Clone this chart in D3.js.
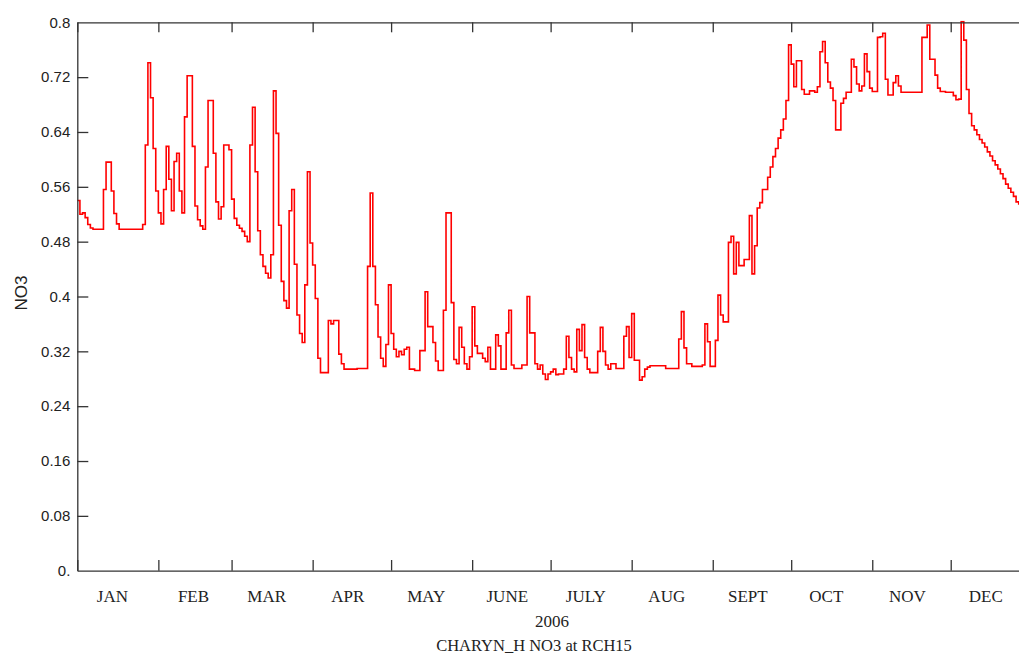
<!DOCTYPE html>
<html>
<head>
<meta charset="utf-8">
<script src="https://cdn.jsdelivr.net/npm/d3@7"></script>
<style>
  html, body { margin: 0; padding: 0; background: #fff; }
  svg { display: block; }
</style>
</head>
<body>
<svg id="chart" width="1019" height="654"></svg>
<script>
// ---- data: daily NO3 values, 2006 (day 0 = Jan 1) ----
const janValues = [0.540,0.520,0.522,0.515,0.505,0.500,0.498,0.498,0.498,0.498,
  0.556,0.596,0.596,0.554,0.521,0.506,0.498,0.498,0.498,0.498,
  0.498,0.498,0.498,0.498,0.498,0.505,0.621,0.741,0.690,0.616,0.554];
const febValues = [0.522,0.506,0.556,0.619,0.571,0.525,0.597,0.609,0.554,0.522,
  0.662,0.722,0.722,0.619,0.532,0.512,0.503,0.498,0.589,0.686,
  0.686,0.609,0.538,0.513,0.531,0.621,0.621,0.614];
const marValues = [0.542,0.514,0.504,0.4995,0.495,0.488,0.480,0.621,0.676,0.582,
  0.496,0.461,0.444,0.434,0.427,0.461,0.700,0.638,0.504,0.422,
  0.394,0.383,0.525,0.556,0.447,0.373,0.346,0.333,0.417,0.582,0.478];
const aprValues = [0.446,0.397,0.310,0.289,0.289,0.289,0.365,0.360,0.365,0.365,
  0.316,0.302,0.294,0.294,0.294,0.294,0.294,0.295,0.295,0.295,
  0.295,0.444,0.551,0.444,0.388,0.341,0.310,0.298,0.330,0.417];
const mayValues = [0.346,0.323,0.312,0.320,0.315,0.323,0.326,0.294,0.294,0.292,
  0.292,0.321,0.321,0.407,0.356,0.356,0.333,0.306,0.292,0.292,
  0.380,0.522,0.522,0.391,0.308,0.302,0.355,0.326,0.302,0.294,0.312];
const junValues = [0.385,0.328,0.317,0.317,0.310,0.305,0.326,0.294,0.294,0.344,
  0.328,0.294,0.294,0.347,0.380,0.300,0.295,0.295,0.295,0.300,
  0.300,0.400,0.347,0.347,0.302,0.294,0.300,0.287,0.279,0.287];
const julValues = [0.290,0.294,0.286,0.287,0.287,0.294,0.342,0.311,0.294,0.290,
  0.352,0.321,0.359,0.311,0.294,0.289,0.289,0.289,0.320,0.355,
  0.320,0.300,0.294,0.302,0.302,0.295,0.295,0.295,0.342,0.356,0.311];
const augValues = [0.375,0.307,0.307,0.278,0.283,0.294,0.297,0.299,0.299,0.299,
  0.299,0.299,0.299,0.295,0.295,0.295,0.295,0.295,0.338,0.378,
  0.325,0.302,0.302,0.298,0.298,0.298,0.298,0.300,0.360,0.334,0.298];
const sepValues = [0.298,0.336,0.402,0.373,0.363,0.363,0.479,0.488,0.433,0.479,
  0.445,0.445,0.454,0.454,0.518,0.433,0.474,0.529,0.537,0.556,
  0.556,0.574,0.589,0.604,0.616,0.631,0.643,0.659,0.686,0.767];
const octValues = [0.739,0.706,0.744,0.744,0.702,0.695,0.695,0.700,0.700,0.698,
  0.706,0.757,0.772,0.741,0.713,0.704,0.686,0.643,0.643,0.682,
  0.689,0.698,0.698,0.746,0.735,0.710,0.700,0.707,0.754,0.728,0.704];
const novValues = [0.699,0.699,0.778,0.779,0.784,0.717,0.694,0.694,0.712,0.722,
  0.707,0.698,0.698,0.698,0.698,0.698,0.698,0.698,0.698,0.778,
  0.778,0.796,0.746,0.746,0.723,0.704,0.699,0.699,0.698,0.698];
const decValues = [0.698,0.693,0.687,0.688,0.801,0.774,0.702,0.667,0.649,0.643,
  0.636,0.629,0.624,0.618,0.611,0.605,0.598,0.592,0.586,0.579,
  0.572,0.564,0.558,0.552,0.546,0.538,0.535];

const monthLabels = ["JAN","FEB","MAR","APR","MAY","JUNE","JULY","AUG","SEPT","OCT","NOV","DEC"];
const yTickValues = [0, 0.08, 0.16, 0.24, 0.32, 0.4, 0.48, 0.56, 0.64, 0.72, 0.8];
const yTickLabels = ["0.","0.08","0.16","0.24","0.32","0.4","0.48","0.56","0.64","0.72","0.8"];
const yearLabel = "2006";
const titleText = "CHARYN_H NO3 at RCH15";
const yAxisTitle = "NO3";

(function () {
// ---- build series ----
const allValues = [].concat(janValues, febValues, marValues, aprValues, mayValues, junValues,
  julValues, augValues, sepValues, octValues, novValues, decValues);
const t0 = Date.UTC(2006, 0, 1);
const DAY = 86400000;
const series = allValues.map((v, i) => ({ date: new Date(t0 + i * DAY), value: v }));
series.push({ date: new Date(t0 + allValues.length * DAY), value: allValues[allValues.length - 1] });

// ---- layout ----
const pLeft = 77.3, pTop = 22.3, pBottom = 570.7;
const pRight = pLeft + 365 * 2.615;

const svg = d3.select("#chart");
const x = d3.scaleUtc()
  .domain([new Date(t0), new Date(Date.UTC(2007, 0, 1))])
  .range([pLeft, pRight]);
const y = d3.scaleLinear().domain([0, 0.8]).range([pBottom, pTop]);

const monthStarts = d3.utcMonths(new Date(t0), new Date(Date.UTC(2007, 0, 1)));
const monthMids = monthStarts.map(d => new Date(Date.UTC(2006, d.getUTCMonth(), 15)));

svg.append("defs").append("clipPath").attr("id", "clip")
  .append("rect").attr("x", pLeft).attr("y", pTop - 1.5)
  .attr("width", pRight - pLeft).attr("height", pBottom - pTop + 1.5);

// line
const line = d3.line()
  .x(d => x(d.date))
  .y(d => y(d.value))
  .curve(d3.curveStepAfter);

svg.append("path")
  .datum(series)
  .attr("clip-path", "url(#clip)")
  .attr("fill", "none")
  .attr("stroke", "#ff0000")
  .attr("stroke-width", 1.6)
  .attr("stroke-linejoin", "miter")
  .attr("d", line);

const axisColor = "#333";

const gB = svg.append("g").attr("transform", `translate(0,${pBottom})`)
  .call(d3.axisBottom(x).tickValues(monthStarts).tickSizeInner(-10.7).tickSizeOuter(0).tickFormat(""));
const gT = svg.append("g").attr("transform", `translate(0,${pTop})`)
  .call(d3.axisTop(x).tickValues(monthStarts).tickSizeInner(-10).tickSizeOuter(0).tickFormat(""));
const gL = svg.append("g").attr("transform", `translate(${pLeft},0)`)
  .call(d3.axisLeft(y).tickValues(yTickValues).tickSizeInner(-11).tickSizeOuter(0)
    .tickPadding(7).tickFormat((d, i) => yTickLabels[i]));
const gM = svg.append("g").attr("transform", `translate(0,${pBottom})`)
  .call(d3.axisBottom(x).tickValues(monthMids).tickSize(0).tickFormat((d, i) => monthLabels[i]));

[gB, gT, gL, gM].forEach(g => {
  g.select(".domain").attr("stroke", axisColor).attr("stroke-width", 1.3);
  g.selectAll(".tick line").attr("stroke", axisColor).attr("stroke-width", 1.3);
});
gM.select(".domain").remove();
gL.selectAll(".tick line").filter(d => d === 0 || d === 0.8).remove();

gL.selectAll(".tick text")
  .attr("font-family", "'Liberation Sans', Arial, sans-serif")
  .attr("font-size", 15)
  .attr("fill", "#222");

gM.selectAll(".tick text")
  .attr("font-family", "'Liberation Serif', 'Times New Roman', serif")
  .attr("font-size", 17)
  .attr("fill", "#222")
  .attr("dy", null)
  .attr("x", -2)
  .attr("y", 31.8);

svg.append("text")
  .attr("x", 552)
  .attr("y", 626.5)
  .attr("text-anchor", "middle")
  .attr("font-family", "'Liberation Serif', 'Times New Roman', serif")
  .attr("font-size", 17)
  .attr("fill", "#222")
  .text(yearLabel);

svg.append("text")
  .attr("x", 534)
  .attr("y", 650.5)
  .attr("text-anchor", "middle")
  .attr("font-family", "'Liberation Serif', 'Times New Roman', serif")
  .attr("font-size", 16.5)
  .attr("fill", "#222")
  .text(titleText);

svg.append("text")
  .attr("transform", `translate(26.5,293) rotate(-90)`)
  .attr("text-anchor", "middle")
  .attr("font-family", "'Liberation Sans', Arial, sans-serif")
  .attr("font-size", 17)
  .attr("fill", "#222")
  .text(yAxisTitle);
})();
</script>
</body>
</html>
